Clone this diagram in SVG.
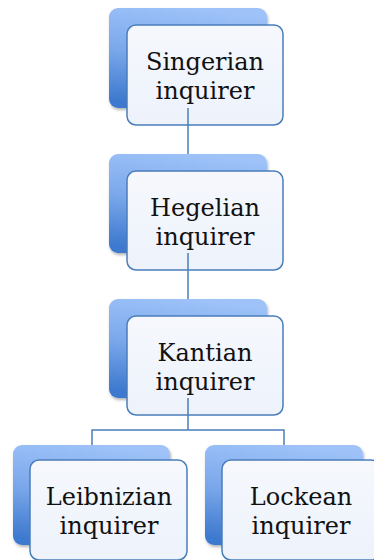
<svg xmlns="http://www.w3.org/2000/svg" width="374" height="560" viewBox="0 0 374 560">
<defs>
<linearGradient id="back" x1="0.6" y1="0" x2="0.4" y2="1">
<stop offset="0" stop-color="#9fc3f9"/>
<stop offset="0.5" stop-color="#7ba8eb"/>
<stop offset="1" stop-color="#3d79ce"/>
</linearGradient>
<linearGradient id="front" x1="0" y1="0" x2="0" y2="1">
<stop offset="0" stop-color="#f6f8fd"/>
<stop offset="1" stop-color="#edf2fb"/>
</linearGradient>
<filter id="sh" x="-10%" y="-10%" width="130%" height="130%">
<feGaussianBlur in="SourceAlpha" stdDeviation="1.5"/>
<feOffset dx="1" dy="2" result="b"/>
<feFlood flood-color="#000" flood-opacity="0.3"/>
<feComposite in2="b" operator="in"/>
<feMerge><feMergeNode/><feMergeNode in="SourceGraphic"/></feMerge>
</filter>
</defs>
<style>
.back{fill:url(#back);filter:url(#sh)}
.front{fill:url(#front);stroke:#4a7ebb;stroke-width:1.5}
.lbl{font-family:"DejaVu Serif","Liberation Serif",serif;font-size:24px;fill:#111;text-anchor:middle}
.con{fill:none;stroke:#4a7ebb;stroke-width:1.5}
</style>
<g id="n-singerian">
<rect class="back" x="109" y="8" width="158" height="100" rx="9"/>
<rect class="front" x="127" y="25" width="156" height="100" rx="9"/>
<text class="lbl" x="205" y="70">Singerian</text>
<text class="lbl" x="205" y="99">inquirer</text>
</g>
<g id="n-hegelian">
<rect class="back" x="109" y="154" width="158" height="99" rx="9"/>
<rect class="front" x="127" y="171" width="156" height="99" rx="9"/>
<text class="lbl" x="205" y="216">Hegelian</text>
<text class="lbl" x="205" y="245">inquirer</text>
</g>
<g id="n-kantian">
<rect class="back" x="109" y="299" width="158" height="99" rx="9"/>
<rect class="front" x="127" y="316" width="156" height="99" rx="9"/>
<text class="lbl" x="205" y="361">Kantian</text>
<text class="lbl" x="205" y="390">inquirer</text>
</g>
<g id="n-leibnizian">
<rect class="back" x="13" y="445" width="157" height="100" rx="9"/>
<rect class="front" x="30" y="460" width="157" height="100" rx="9"/>
<text class="lbl" x="109" y="505">Leibnizian</text>
<text class="lbl" x="109" y="534">inquirer</text>
</g>
<g id="n-lockean">
<rect class="back" x="205" y="445" width="158" height="100" rx="9"/>
<rect class="front" x="222" y="460" width="158" height="100" rx="9"/>
<text class="lbl" x="301" y="505">Lockean</text>
<text class="lbl" x="301" y="534">inquirer</text>
</g>
<g id="connectors">
<path class="con" d="M188,108 V154"/>
<path class="con" d="M188,253 V299"/>
<path class="con" d="M188,398 V430 M92,445 V430 H284 V445"/>
</g>
</svg>
